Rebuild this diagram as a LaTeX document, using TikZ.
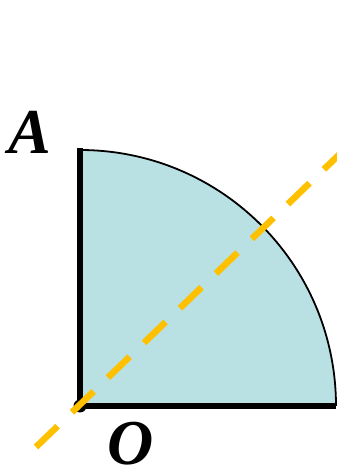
\documentclass[tikz,border=0pt]{standalone}
\usepackage{fontspec}
\setmainfont{Liberation Serif}
\usetikzlibrary{
	arrows.meta,
	positioning,
	calc
}
\usepackage{xcolor}
\definecolor{quartfill}{HTML}{B9E0E3}
\definecolor{axisgold}{HTML}{FFC000}

\begin{document}
\begin{tikzpicture}[x=1pt,y=1pt,
	edge/.style={line width=6pt},
	rim/.style={line width=1.8pt},
	symaxis/.style={draw=axisgold,line width=6.5pt,dash pattern=on 30pt off 20pt},
	lbl/.style={font=\fontsize{64}{64}\selectfont\bfseries\itshape,inner sep=0pt}]
		
		\useasboundingbox (0,0) rectangle (337,474);
		
		% Quarter disc
		\coordinate (o) at (80,68);
		\coordinate (a) at (80,326);
		\coordinate (b) at (336,68);
		\fill[quartfill] (o) -- (b) arc[start angle=0,end angle=90,radius=256pt] -- cycle;
		\draw[rim] (b) arc[start angle=0,end angle=90,radius=256pt];
		\draw[edge] (a)--(o)--(b);
		\fill (o) circle (6.5pt);
		
		% Symmetry axis
		\coordinate (s) at (36,27);
		\coordinate (e) at (346,326);
		\draw[symaxis] (s)--(e);
		
		\node[lbl] (lblA) at (30,342){A};
		\node[lbl] (lblO) at (131,30){O};
		
	\end{tikzpicture}
\end{document}
